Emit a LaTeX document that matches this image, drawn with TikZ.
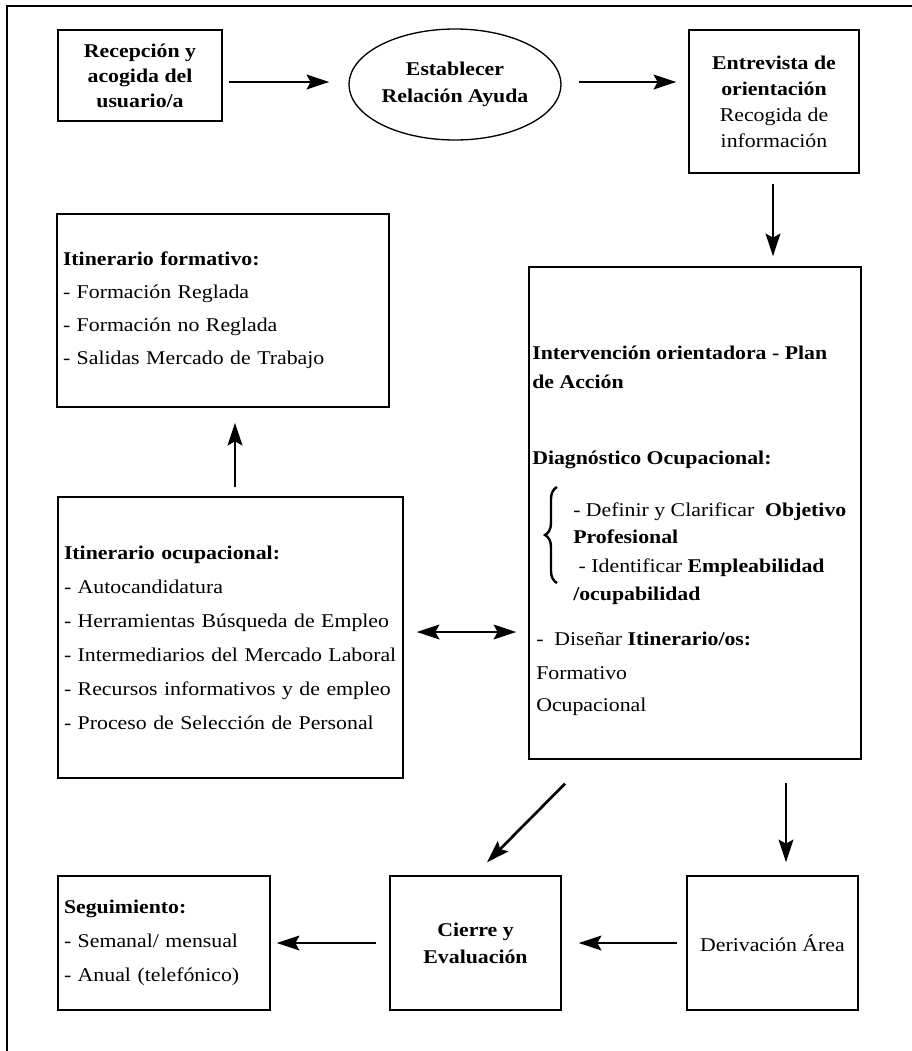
\documentclass[tikz,border=0pt]{standalone}
\usepackage{fontspec}
\setmainfont{Liberation Serif}[FakeStretch=1.12]
\usetikzlibrary{calc, positioning}
\usetikzlibrary{arrows.meta}
\usetikzlibrary{shapes.geometric}
\usetikzlibrary{decorations.pathreplacing}

\newcommand{\fcfont}{\fontsize{14.6}{19.5}\selectfont}
\newcommand{\fclist}{\fontsize{14.6}{25.5}\selectfont}

\tikzset{
  box/.style={draw, line width=1pt, inner sep=0pt, align=center},
  listbox/.style={draw, line width=1pt, inner xsep=4.5pt, inner ysep=0pt, align=left},
  plantext/.style={anchor=west, inner sep=0pt, font=\fcfont},
  arr/.style={-{Stealth[length=17pt, width=11pt, inset=3pt]}, line width=2pt},
  dblarr/.style={{Stealth[length=17pt, width=11pt, inset=3pt]}-{Stealth[length=17pt, width=11pt, inset=3pt]}, line width=2pt},
}

\begin{document}
\begin{tikzpicture}[x=0.75pt, y=-0.75pt]
\useasboundingbox (0,0) rectangle (912,1051);

% frame (top and left only)
\draw[line width=1.1pt] (7,1051) -- (7,6) -- (912,6);

% top row
\node[box, minimum width=123pt, minimum height=68.25pt, font=\fontsize{14.6}{18.75}\selectfont\bfseries] (recep) at (140,75.5)
  {Recepción y\\acogida del\\usuario/a};
\node[box, ellipse, minimum width=159pt, minimum height=83.25pt, font=\fontsize{14.6}{20.25}\selectfont\bfseries] (relacion) at (455,84.5)
  {Establecer\\Relación Ayuda};
\node[box, minimum width=127.5pt, minimum height=107.25pt, font=\fcfont] (entrev) at (774,101.5)
  {\textbf{Entrevista de}\\\textbf{orientación}\\Recogida de\\información};

% left column
\node[listbox, text width=240pt, minimum height=144.75pt, font=\fontsize{14.6}{24.75}\selectfont] (formativo) at (223,310.5)
  {\textbf{Itinerario formativo:}\\- Formación Reglada\\- Formación no Reglada\\- Salidas Mercado de Trabajo};
\node[listbox, text width=249.75pt, minimum height=210.75pt, font=\fclist] (ocupac) at (230.5,637.5)
  {\textbf{Itinerario ocupacional:}\\- Autocandidatura\\\mbox{- Herramientas Búsqueda de Empleo}\\\mbox{- Intermediarios del Mercado Laboral}\\\mbox{- Recursos informativos y de empleo}\\\mbox{- Proceso de Selección de Personal}};

% action plan
\node[box, minimum width=249pt, minimum height=369pt] (plan) at (695,513) {};
\node[plantext] (intervencion) at (532,353) {\textbf{Intervención orientadora - Plan}};
\node[plantext] (accion) at (532,382) {\textbf{de Acción}};
\node[plantext] (diagnostico) at (532,460) {\textbf{Diagnóstico Ocupacional:}};
\node[plantext] (definir) at (573,512) {- Definir y Clarificar \ \textbf{Objetivo}};
\node[plantext] (profesional) at (573,537) {\textbf{Profesional}};
\node[plantext] (identificar) at (573,568) {\ - Identificar \textbf{Empleabilidad}};
\node[plantext] (ocupabilidad) at (573,596) {\textbf{/ocupabilidad}};
\node[plantext] (disenar) at (536,639) {- \ Diseñar \textbf{Itinerario/os:}};
\node[plantext] (format) at (536,673) {Formativo};
\node[plantext] (ocupat) at (536,707) {Ocupacional};
\draw[line width=1.8pt, decorate, decoration={brace, amplitude=9pt}] (557,583) -- (557,487);

% bottom row
\node[listbox, text width=150pt, minimum height=100.5pt, font=\fclist] (segui) at (164,943)
  {\textbf{Seguimiento:}\\- Semanal/ mensual\\- Anual (telefónico)};
\node[box, minimum width=128.25pt, minimum height=100.5pt, font=\fontsize{14.6}{20.25}\selectfont\bfseries] (cierre) at (475.5,943)
  {Cierre y\\Evaluación};
\node[box, minimum width=128.25pt, minimum height=100.5pt, font=\fcfont] (deriv) at (772.5,943)
  {Derivación Área};

% connectors
\draw[arr] ($(recep.east)+(6,6.5)$) -- ($(relacion.west)+(-19,-2.5)$);
\draw[arr] ($(relacion.east)+(17,-2.5)$) -- ($(entrev.west)+(-12,-19.5)$);
\draw[arr] ($(entrev.south)+(-1,10)$) -- ($(plan.north)+(78,-10)$);
\draw[arr] ($(ocupac.north)+(4.5,-9)$) -- ($(formativo.south)+(12,15)$);
\draw[dblarr] ($(ocupac.east)+(13,-5.5)$) -- ($(plan.west)+(-12,119)$);
\draw[arr] ($(plan.south)+(-130,24)$) -- ($(cierre.north)+(11.5,-13)$);
\draw[arr] ($(plan.south)+(91,23)$) -- ($(deriv.north)+(13.5,-13)$);
\draw[arr] ($(deriv.west)+(-9,0)$) -- ($(cierre.east)+(17,0)$);
\draw[arr] ($(cierre.west)+(-13,0)$) -- ($(segui.east)+(6,0)$);
\end{tikzpicture}
\end{document}
